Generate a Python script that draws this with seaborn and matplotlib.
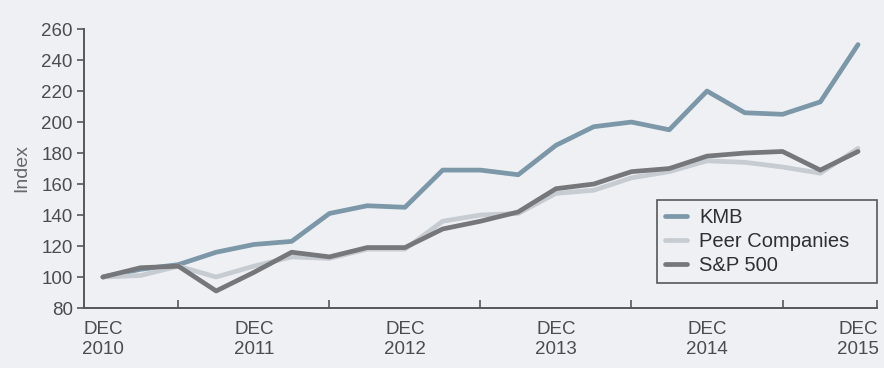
import matplotlib
matplotlib.use("Agg")
import matplotlib.pyplot as plt
import seaborn as sns
import pandas as pd
import numpy as np

quarters = list(range(21))
year_labels = ["DEC\n2010", "DEC\n2011", "DEC\n2012", "DEC\n2013", "DEC\n2014", "DEC\n2015"]
series_names = ["KMB", "Peer Companies", "S&P 500"]
kmb = [100, 105, 108, 116, 121, 123, 141, 146, 145, 169, 169, 166, 185, 197, 200, 195, 220, 206, 205, 213, 250]
peer = [100, 101, 107, 100, 107, 113, 112, 118, 118, 136, 140, 141, 154, 156, 164, 168, 175, 174, 171, 167, 183]
sp500 = [100, 106, 107, 91, 103, 116, 113, 119, 119, 131, 136, 142, 157, 160, 168, 170, 178, 180, 181, 169, 181]
y_ticks = [80, 100, 120, 140, 160, 180, 200, 220, 240, 260]

df = pd.DataFrame({
    "q": quarters * 3,
    "value": kmb + peer + sp500,
    "series": [series_names[0]] * 21 + [series_names[1]] * 21 + [series_names[2]] * 21,
})

bg = "#eef0f4"
txt = "#4a4c50"
sns.set_theme(style="white")
plt.rcParams["font.family"] = ["Liberation Sans", "DejaVu Sans"]

fig = plt.figure(figsize=(8.84, 3.68), dpi=100, facecolor=bg)
ax = fig.add_axes([0.095, 0.163, 0.897, 0.758])
ax.set_facecolor(bg)

palette = {"KMB": "#7b97a8", "Peer Companies": "#c6ccd2", "S&P 500": "#75777b"}
sns.lineplot(data=df, x="q", y="value", hue="series", hue_order=series_names,
             palette=palette, linewidth=3.4, ax=ax, legend=True)

ax.set_xlim(-0.5, 20.5)
ax.set_ylim(80, 260)
ax.set_yticks(y_ticks)
ax.set_xticks([0, 4, 8, 12, 16, 20])
ax.set_xticklabels(year_labels, linespacing=1.25)
ax.set_xticks([2, 6, 10, 14, 18, 20.5], minor=True)
ax.tick_params(axis="x", which="major", length=0, pad=9, labelsize=13.5, labelcolor=txt)
ax.tick_params(axis="x", which="minor", direction="in", length=6, width=1.2, color="#55575a", bottom=True)
ax.tick_params(axis="y", which="major", direction="out", length=5, width=1.2, color="#55575a",
               pad=3, labelsize=13.5, labelcolor=txt, left=True)

for s in ["top", "right"]:
    ax.spines[s].set_visible(False)
for s in ["left", "bottom"]:
    ax.spines[s].set_color("#55575a")
    ax.spines[s].set_linewidth(1.4)

ax.set_xlabel("")
ax.set_ylabel("Index", fontsize=14, color="#66686c", labelpad=8)

leg = ax.legend(loc="upper left", bbox_to_anchor=(0.7226, 0.072, 0.2774, 0.315), mode="expand",
                borderaxespad=0, frameon=True, fancybox=False, fontsize=14.5, handlelength=1.1,
                handletextpad=0.6, labelspacing=0.25, borderpad=0.4, title=None)
frame = leg.get_frame()
frame.set_edgecolor("#55575a")
frame.set_linewidth(1.2)
frame.set_facecolor(bg)
frame.set_alpha(1)
for t in leg.get_texts():
    t.set_color("#2f3033")
for l in leg.get_lines():
    l.set_linewidth(3.4)

fig.savefig("out.png", dpi=100, facecolor=bg)
